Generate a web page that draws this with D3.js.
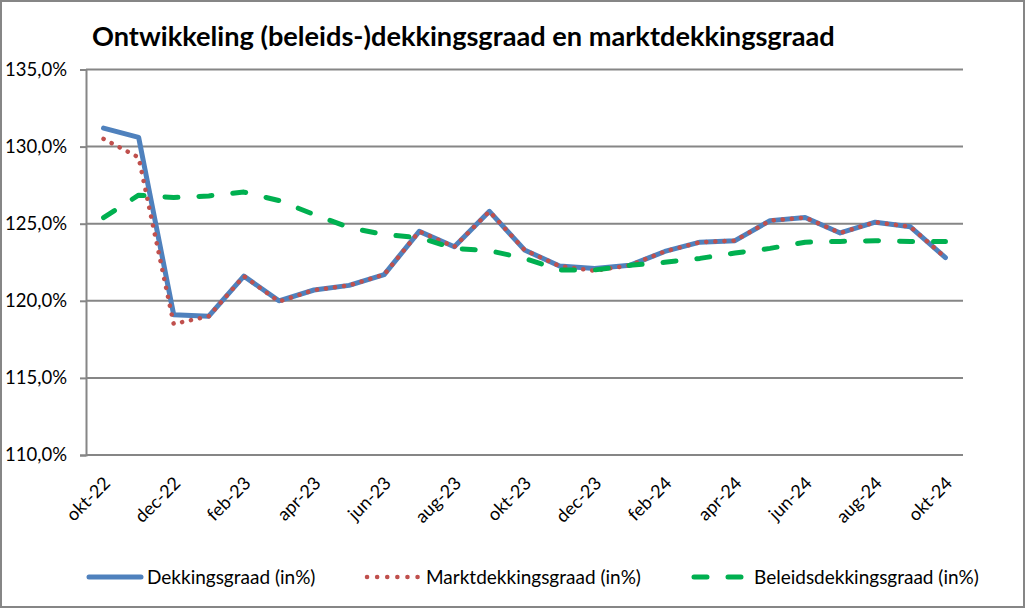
<!DOCTYPE html>
<html>
<head>
<meta charset="utf-8">
<script src="https://cdn.jsdelivr.net/npm/d3@7"></script>
<style>
  html, body { margin: 0; padding: 0; background: #fff; }
  svg { display: block; }
  text { font-family: Lato, "Open Sans", sans-serif; fill: #000; }
</style>
</head>
<body>
<svg id="chart" width="1026" height="609"></svg>
<script>
const months = ["okt-22","nov-22","dec-22","jan-23","feb-23","mrt-23","apr-23","mei-23","jun-23","jul-23","aug-23","sep-23","okt-23","nov-23","dec-23","jan-24","feb-24","mrt-24","apr-24","mei-24","jun-24","jul-24","aug-24","sep-24","okt-24"];
const tickLabels = ["okt-22","dec-22","feb-23","apr-23","jun-23","aug-23","okt-23","dec-23","feb-24","apr-24","jun-24","aug-24","okt-24"];
const yTicks = [110,115,120,125,130,135];
const dekkingsgraad = [131.2,130.6,119.1,119.0,121.6,120.0,120.7,121.0,121.7,124.5,123.5,125.8,123.3,122.25,122.1,122.3,123.2,123.8,123.9,125.2,125.4,124.4,125.1,124.8,122.8];
const marktdekkingsgraad = [130.5,129.3,118.5,119.0,121.6,119.95,120.7,121.0,121.7,124.5,123.5,125.8,123.3,122.25,121.95,122.3,123.2,123.8,123.9,125.2,125.4,124.4,125.1,124.8,122.8];
const beleidsdekkingsgraad = [125.4,126.85,126.7,126.8,127.05,126.5,125.6,124.75,124.3,124.1,123.4,123.25,122.75,122.0,122.0,122.3,122.5,122.75,123.1,123.4,123.8,123.85,123.9,123.85,123.85];
const seriesNames = ["Dekkingsgraad (in%)","Marktdekkingsgraad (in%)","Beleidsdekkingsgraad (in%)"];

const svg = d3.select("#chart");
const W = 1026, H = 609;
const gridColor = "#868686";

// chart border
svg.append("rect").attr("x",1).attr("y",1).attr("width",W-3).attr("height",H-3)
  .attr("fill","#fff").attr("stroke",gridColor).attr("stroke-width",2);

const plot = {left: 86, right: 963, top: 69.5, bottom: 455};
const x = d3.scalePoint().domain(months).range([plot.left, plot.right]).padding(0.5);
const y = d3.scaleLinear().domain([110,135]).range([plot.bottom, plot.top]);

// title
const title = svg.append("text").attr("x",92).attr("y",46)
  .attr("font-weight","bold").attr("font-size",22)
  .text("Ontwikkeling (beleids-)dekkingsgraad en marktdekkingsgraad");
const tw = title.node().getComputedTextLength();
title.attr("font-size", 22 * 743 / tw);

// gridlines
svg.append("g").selectAll("line").data(yTicks).join("line")
  .attr("x1",plot.left).attr("x2",plot.right)
  .attr("y1",d=>y(d)).attr("y2",d=>y(d))
  .attr("stroke",gridColor).attr("stroke-width",2);

// y axis
const yAxis = svg.append("g").attr("transform",`translate(${plot.left},0)`)
  .call(d3.axisLeft(y).tickValues(yTicks).tickSize(6).tickPadding(13)
    .tickFormat(d => d.toFixed(1).replace(".", ",") + "%"));
yAxis.select(".domain").attr("stroke",gridColor).attr("stroke-width",2);
yAxis.selectAll(".tick line").attr("stroke",gridColor).attr("stroke-width",2);
yAxis.selectAll("text").attr("font-size",18.5).attr("font-family","Lato, sans-serif").attr("fill","#000");

// x axis
const xAxis = svg.append("g").attr("transform",`translate(0,${plot.bottom})`)
  .call(d3.axisBottom(x).tickValues(tickLabels).tickSize(0).tickPadding(0));
xAxis.select(".domain").remove();
xAxis.selectAll("text")
  .attr("font-size",18).attr("font-family","Lato, sans-serif").attr("fill","#000")
  .attr("text-anchor","end").attr("y",0).attr("dy","0.35em")
  .attr("transform","translate(3,25) rotate(-45)");

const line = d3.line().x((d,i)=>x(months[i])).y(d=>y(d));

svg.append("path").datum(dekkingsgraad).attr("d",line)
  .attr("fill","none").attr("stroke","#4F81BD").attr("stroke-width",5)
  .attr("stroke-linejoin","round").attr("stroke-linecap","round");
svg.append("path").datum(marktdekkingsgraad).attr("d",line)
  .attr("fill","none").attr("stroke","#C0504D").attr("stroke-width",4.5)
  .attr("stroke-dasharray","0.1,9").attr("stroke-linecap","round").attr("stroke-linejoin","round");
svg.append("path").datum(beleidsdekkingsgraad).attr("d",line)
  .attr("fill","none").attr("stroke","#00B050").attr("stroke-width",5)
  .attr("stroke-dasharray","13,21").attr("stroke-linecap","round").attr("stroke-linejoin","round");

// legend
const legendY = 577;
const legendItems = [
  {name: seriesNames[0], x1: 89, x2: 141, tx: 147, color: "#4F81BD", dash: null, w: 5},
  {name: seriesNames[1], x1: 367, x2: 418, tx: 426, color: "#C0504D", dash: "0.1,10", w: 4.5},
  {name: seriesNames[2], x1: 694, x2: 745, tx: 754, color: "#00B050", dash: "13,21", w: 5}
];
const lg = svg.append("g").selectAll("g").data(legendItems).join("g");
lg.append("line").attr("x1",d=>d.x1).attr("x2",d=>d.x2).attr("y1",legendY).attr("y2",legendY)
  .attr("stroke",d=>d.color).attr("stroke-width",d=>d.w)
  .attr("stroke-dasharray",d=>d.dash).attr("stroke-linecap","round");
lg.append("text").attr("x",d=>d.tx).attr("y",legendY).attr("dy","0.35em")
  .attr("font-size",19).text(d=>d.name);
</script>
</body>
</html>
